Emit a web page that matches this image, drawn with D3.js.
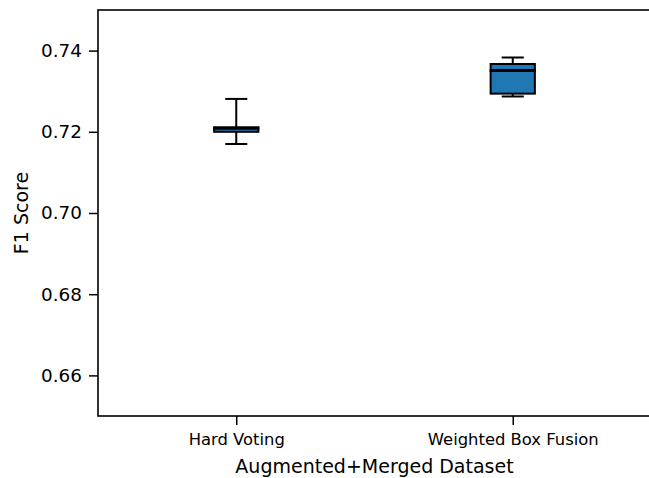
<!DOCTYPE html>
<html>
<head>
<meta charset="utf-8">
<script src="https://cdn.jsdelivr.net/npm/d3@7"></script>
<style>
  html, body { margin: 0; padding: 0; background: #fff; }
  svg { display: block; font-family: "DejaVu Sans", sans-serif; }
</style>
</head>
<body>
<svg id="chart" width="649" height="478"></svg>
<script>
// Ensemble methods compared on the augmented + merged dataset
const methods = ["Hard Voting", "Weighted Box Fusion"];
const whiskerLow  = [0.7170, 0.7287];
const q1          = [0.7200, 0.7294];
const median      = [0.7209, 0.7351];
const q3          = [0.7211, 0.7367];
const whiskerHigh = [0.7281, 0.7383];
const yTicks = [0.66, 0.68, 0.70, 0.72, 0.74];

const svg = d3.select("#chart");
const margin = { left: 98, top: 10, right: -2, bottom: 62 };
const W = 649, H = 478;

// Positions 1..n on a continuous axis, padded half a slot each side
const x = d3.scaleLinear()
  .domain([0.5, methods.length + 0.5])
  .range([margin.left, W - margin.right]);
const y = d3.scaleLinear()
  .domain([0.65, 0.75])
  .range([H - margin.bottom, margin.top]);

const boxW = 0.16;           // box width in position units
const capW = boxW * 0.5;     // whisker caps are half the box width
const lw = 2;                // line width for boxes, whiskers and caps

const stats = methods.map((m, i) => ({
  name: m, pos: i + 1,
  lo: whiskerLow[i], q1: q1[i], med: median[i], q3: q3[i], hi: whiskerHigh[i]
}));

const g = svg.append("g");

// whiskers
g.selectAll(".whisk-lo").data(stats).join("line")
  .attr("x1", d => x(d.pos)).attr("x2", d => x(d.pos))
  .attr("y1", d => y(d.q1)).attr("y2", d => y(d.lo))
  .attr("stroke", "#000").attr("stroke-width", lw);
g.selectAll(".whisk-hi").data(stats).join("line")
  .attr("x1", d => x(d.pos)).attr("x2", d => x(d.pos))
  .attr("y1", d => y(d.q3)).attr("y2", d => y(d.hi))
  .attr("stroke", "#000").attr("stroke-width", lw);

// caps
["lo", "hi"].forEach(k => {
  g.selectAll(".cap-" + k).data(stats).join("line")
    .attr("x1", d => x(d.pos - capW / 2)).attr("x2", d => x(d.pos + capW / 2))
    .attr("y1", d => y(d[k])).attr("y2", d => y(d[k]))
    .attr("stroke", "#000").attr("stroke-width", lw);
});

// boxes
g.selectAll(".box").data(stats).join("rect")
  .attr("x", d => x(d.pos - boxW / 2))
  .attr("width", d => x(d.pos + boxW / 2) - x(d.pos - boxW / 2))
  .attr("y", d => y(d.q3))
  .attr("height", d => y(d.q1) - y(d.q3))
  .attr("fill", "#1f77b4")
  .attr("stroke", "#000").attr("stroke-width", lw);

// medians
g.selectAll(".median").data(stats).join("line")
  .attr("x1", d => x(d.pos - boxW / 2) - 1).attr("x2", d => x(d.pos + boxW / 2) + 1)
  .attr("y1", d => y(d.med)).attr("y2", d => y(d.med))
  .attr("stroke", "#000").attr("stroke-width", 3);

// axes
const yAxis = d3.axisLeft(y).tickValues(yTicks).tickFormat(d3.format(".2f"))
  .tickSize(9).tickPadding(7);
const xAxis = d3.axisBottom(x).tickValues(stats.map(d => d.pos))
  .tickFormat((d, i) => methods[i]).tickSize(9).tickPadding(8.5);

const ya = svg.append("g").attr("transform", `translate(${margin.left},0)`).call(yAxis);
ya.select(".domain").remove();
ya.selectAll(".tick line").attr("stroke", "#000").attr("stroke-width", 1.5);
ya.selectAll(".tick text").attr("fill", "#000").attr("font-size", 18.4)
  .attr("font-family", "DejaVu Sans");

const xa = svg.append("g").attr("transform", `translate(0,${H - margin.bottom})`).call(xAxis);
xa.select(".domain").remove();
xa.selectAll(".tick line").attr("stroke", "#000").attr("stroke-width", 1.5);
xa.selectAll(".tick text").attr("fill", "#000").attr("font-size", 16.4)
  .attr("font-family", "DejaVu Sans");

// frame
svg.append("rect")
  .attr("x", margin.left).attr("y", margin.top)
  .attr("width", W - margin.right - margin.left)
  .attr("height", H - margin.bottom - margin.top)
  .attr("fill", "none").attr("stroke", "#000").attr("stroke-width", 1.6);

// axis titles
svg.append("text")
  .attr("x", (margin.left + W - margin.right) / 2).attr("y", 473)
  .attr("text-anchor", "middle").attr("font-size", 19).attr("fill", "#000")
  .text("Augmented+Merged Dataset");
svg.append("text")
  .attr("transform", `translate(28,${(margin.top + H - margin.bottom) / 2}) rotate(-90)`)
  .attr("text-anchor", "middle").attr("font-size", 19).attr("fill", "#000")
  .text("F1 Score");
</script>
</body>
</html>
